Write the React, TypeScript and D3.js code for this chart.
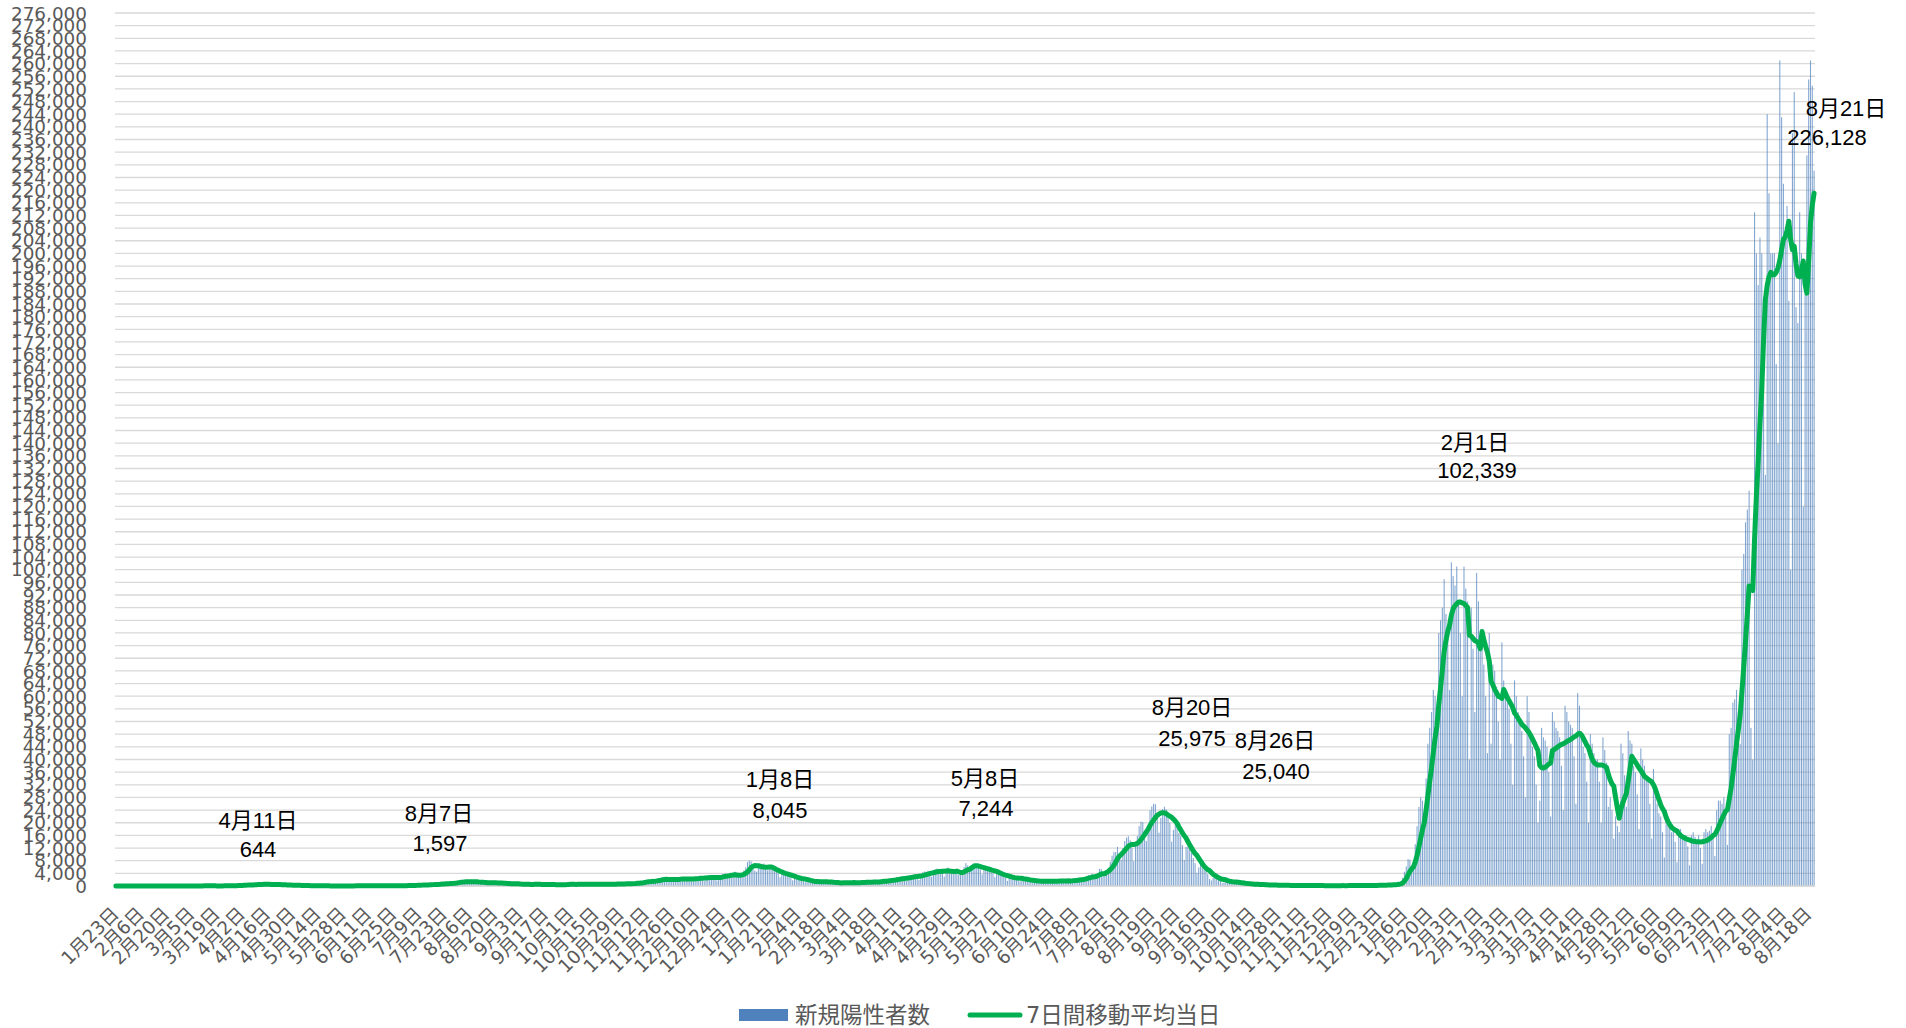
import React from 'react';
import * as d3 from 'd3';

// ---------------- data ----------------
const startDate = new Date(2020, 0, 23);

// daily new positive cases, 2020-01-23 .. 2020-12-31 (one line per month)
const cases2020 = [
  0, 1, 0, 1, 0, 2, 1, 3, 2,
  1, 0, 0, 0, 0, 0, 1, 0, 0, 1, 0, 0, 3, 8, 5, 7, 8, 6, 3, 12, 8, 9, 7, 3, 7, 10, 14, 22, 10,
  13, 15, 12, 18, 35, 41, 32, 26, 33, 51, 55, 62, 50, 41, 15, 39, 44, 36, 39, 52, 23, 39, 52, 45, 93, 95, 120, 200, 127, 87, 249,
  266, 235, 353, 368, 384, 254, 351, 504, 579, 579, 644, 507, 390, 457, 482, 585, 576, 568, 368, 373, 388, 437, 440, 430, 350, 201, 174, 277, 220, 187,
  165, 290, 200, 174, 123, 95, 97, 83, 111, 59, 58, 81, 55, 99, 54, 26, 41, 26, 22, 40, 41, 30, 14, 21, 20, 21, 38, 27, 41, 36, 46,
  36, 40, 49, 50, 40, 44, 46, 32, 40, 33, 51, 43, 38, 50, 72, 43, 41, 74, 51, 53, 58, 38, 37, 96, 78, 103, 102, 106, 107, 123,
  137, 127, 250, 274, 209, 170, 207, 222, 355, 430, 385, 408, 259, 325, 456, 622, 587, 664, 509, 420, 631, 793, 980, 770, 838, 840, 598, 982, 1264, 1301, 1580,
  1536, 1331, 958, 1245, 1356, 1485, 1597, 1566, 1441, 828, 698, 969, 1175, 1364, 1231, 1014, 636, 869, 1075, 1196, 1026, 1011, 738, 489, 685, 849, 905, 843, 708, 590, 452,
  638, 598, 591, 568, 595, 470, 280, 508, 506, 651, 653, 636, 438, 269, 427, 500, 585, 557, 598, 436, 321, 298, 196, 472, 545, 642, 486, 290, 517, 629,
  603, 540, 580, 399, 388, 496, 661, 638, 732, 570, 453, 328, 578, 593, 714, 726, 638, 413, 304, 459, 623, 611, 707, 784, 514, 431, 519, 707, 751, 849, 866,
  613, 484, 923, 616, 907, 1042, 1255, 911, 905, 1220, 1547, 1660, 1706, 1738, 1439, 949, 1699, 2201, 2386, 2427, 2596, 2176, 1526, 1227, 1934, 2504, 2508, 2684, 2068, 1438,
  2037, 2430, 2518, 2437, 2508, 2027, 1516, 2072, 2789, 2810, 2787, 3041, 2380, 1683, 2388, 3212, 3047, 2839, 2994, 2488, 1725, 2636, 3268, 3740, 3827, 3877, 2946, 2395, 3601, 3852, 4520,
];

// 2021-01-01 .. 2021-12-31
const cases2021 = [
  3159, 3059, 3139, 3325, 4887, 5943, 7570, 8045, 7790, 6094, 4876, 4537, 5867, 6605, 6714, 7133, 5759, 4925, 5320, 5654, 5454, 4740, 4709, 3990, 2764, 3853, 3961, 4131, 3534, 3343, 2673,
  1792, 2324, 2631, 2576, 2283, 2369, 1892, 1223, 1569, 1564, 1463, 1354, 1357, 1354, 1093, 1302, 1527, 1389, 1311, 1241, 1224, 857, 1057, 1076, 1033, 1101, 962, 679,
  1112, 978, 1233, 1174, 1145, 1095, 1067, 601, 1046, 1325, 1284, 1354, 1305, 1144, 718, 1116, 1513, 1547, 1565, 1462, 1119, 1175, 1507, 1911, 1931, 2078, 2060, 1785, 1245, 2081, 2843,
  2610, 2764, 2773, 2471, 1572, 2659, 3451, 3446, 3450, 3695, 2791, 1936, 3451, 4302, 4573, 4532, 4802, 3955, 2906, 4340, 5297, 5523, 5122, 5037, 4620, 2959, 4846, 5790, 4703, 4694,
  4678, 4179, 4026, 3467, 4209, 4459, 6054, 7244, 6481, 4886, 6248, 7050, 6861, 6267, 6420, 5221, 3671, 5231, 5758, 5695, 5304, 4904, 4007, 2766, 3768, 4262, 3834, 3527, 3309, 2598, 1622,
  2709, 3009, 2719, 2618, 2608, 2245, 1479, 2268, 2169, 2138, 1939, 1877, 1541, 936, 1383, 1763, 1745, 1550, 1646, 1310, 1009, 1418, 1698, 1742, 1690, 1732, 1388, 1040, 1516, 1771,
  1781, 1845, 1806, 1599, 1017, 1674, 2190, 2254, 2223, 2460, 2081, 1503, 2390, 3194, 3427, 3432, 3898, 2330, 2312, 3761, 5413, 5397, 4225, 4183, 4697, 4701, 7631, 9576, 10687, 10744, 12341,
  10170, 8364, 12015, 14211, 15263, 15746, 14467, 12072, 7846, 13008, 15812, 18888, 20366, 20137, 17486, 14207, 18923, 23914, 25153, 25975, 25869, 22234, 16879, 21528, 24306, 25040, 24262, 22741, 19995, 14032, 17739,
  20033, 20020, 16752, 15783, 12940, 8230, 12350, 12411, 12385, 10390, 8856, 7226, 4171, 5852, 6790, 5791, 5103, 4704, 3775, 2209, 1767, 2600, 3263, 2567, 2237, 1577, 919, 1128, 1986, 1575,
  1446, 1237, 1073, 610, 1048, 1125, 1003, 859, 776, 517, 372, 611, 616, 611, 509, 508, 429, 233, 372, 395, 323, 338, 283, 262, 155, 301, 291, 279, 278, 239, 163,
  86, 232, 164, 140, 216, 204, 162, 106, 157, 215, 206, 193, 188, 128, 77, 120, 162, 162, 141, 108, 92, 56, 80, 78, 129, 108, 134, 118, 85, 122,
  132, 90, 152, 121, 128, 100, 162, 127, 174, 154, 168, 173, 103, 176, 178, 186, 189, 182, 165, 134, 206, 252, 291, 299, 306, 207, 244, 401, 478, 413, 550,
];

// 2022-01-01 .. 2022-08-21
const cases2022 = [
  500, 550, 780, 1300, 2600, 4500, 6200, 8500, 8300, 6400, 6000, 13200, 18900, 25000, 28000, 27000, 22000, 34000, 45000, 50000, 55000, 62000, 60000, 48000, 80000, 84000, 88000, 97000, 86000, 80000, 62000,
  102339, 98000, 95000, 101000, 90000, 80000, 60000, 101000, 94000, 90000, 40000, 88000, 75000, 55000, 99000, 90000, 78000, 78000, 70000, 60000, 42000, 80000, 45000, 70000, 68000, 63000, 52000, 40000,
  77000, 65000, 62000, 58000, 56000, 45000, 32000, 65000, 60000, 55000, 52000, 49000, 41000, 28000, 60000, 55000, 48000, 44000, 41000, 32000, 20000, 27000, 50000, 47000, 46000, 44000, 36000, 22000, 55000, 52000, 50000,
  49000, 47000, 38000, 24000, 57000, 55000, 52000, 51000, 50000, 41000, 26000, 61000, 57000, 49000, 44000, 42000, 33000, 20000, 48000, 45000, 42000, 40000, 40000, 33000, 20000, 47000, 43000, 39000, 25000, 28000,
  24000, 15000, 22000, 19000, 17000, 45000, 42000, 35000, 25000, 49000, 46000, 45000, 38000, 36000, 29000, 18000, 43500, 40000, 38000, 35000, 33000, 26000, 15000, 37000, 31000, 26000, 23000, 22000, 17000, 9000, 24000,
  22000, 19000, 17000, 18500, 14000, 7500, 18000, 18000, 16000, 15000, 16000, 12500, 6500, 16000, 17000, 15500, 14500, 16000, 12000, 7000, 17000, 18000, 17000, 17500, 19000, 16000, 9500, 24000, 27000, 27000,
  26000, 28000, 24000, 13000, 48000, 50000, 58000, 59000, 62000, 55000, 45000, 100000, 105000, 115000, 119000, 125000, 50000, 40000, 213000, 200000, 190000, 205000, 200000, 160000, 130000, 244000, 219000, 200000, 200000, 200000, 165000,
  140000, 261000, 243000, 222000, 205000, 215000, 185000, 100000, 238000, 251000, 183000, 178000, 213000, 200000, 120000, 187000, 231000, 255000, 261000, 253000, 226128,
];

const yMax = 276000;
const yStep = 4000;
const labelEvery = 14;
const seriesNames = ['新規陽性者数', '7日間移動平均当日'];
const annotatedDates = ['2020-04-11', '2020-08-07', '2021-01-08', '2021-05-08', '2021-08-20', '2021-08-26', '2022-02-01', '2022-08-21'];

// ---------------- layout ----------------
const W = 1906;
const H = 1028;
const PLOT = { left: 115, right: 1815, top: 13, bottom: 886 };
// [date x, date baseline, value x, value baseline]
const annotationLayout = [
  [258, 828, 258, 857],
  [439, 821, 440, 851],
  [780, 787, 780, 818],
  [985, 786, 986, 816],
  [1192, 715, 1192, 746],
  [1275, 748, 1276, 779],
  [1475, 450, 1477, 478],
  [1846, 116, 1827, 145],
];
const FONT = "'DejaVu Sans', 'Noto Sans CJK JP', sans-serif";
const ANNOT_FONT = "'Liberation Sans', 'Noto Sans CJK JP', sans-serif";
const BAR_COLOR = '#4F81BD';
const LINE_COLOR = '#00B050';
const AXIS_TEXT = '#595959';
const GRID = '#D9D9D9';

export default function App() {
  const daily = [...cases2020, ...cases2021, ...cases2022];
  const dates = daily.map((_, i) => d3.timeDay.offset(startDate, i));
  const avg = daily.map((_, i) => d3.mean(daily.slice(Math.max(0, i - 6), i + 1)) as number);

  const x = d3
    .scaleBand<number>()
    .domain(d3.range(daily.length))
    .range([PLOT.left, PLOT.right])
    .paddingInner(0.4)
    .paddingOuter(0.2);
  const bw = x.bandwidth();
  const cx = (i: number) => (x(i) as number) + bw / 2;
  const y = d3.scaleLinear().domain([0, yMax]).range([PLOT.bottom, PLOT.top]);

  const line = d3
    .line<number>()
    .x((_, i) => cx(i))
    .y((d) => y(d));

  const yTicks = d3.range(0, yMax + 1, yStep);
  const fmt = d3.format(',');
  const iso = d3.timeFormat('%Y-%m-%d');
  const dateLabel = (d: Date) => `${d.getMonth() + 1}月${d.getDate()}日`;
  const xTickIdx = d3.range(0, daily.length, labelEvery);

  const annotations = annotatedDates.map((s, k) => {
    const idx = dates.findIndex((d) => iso(d) === s);
    return { idx, k, date: dateLabel(dates[idx]), value: fmt(daily[idx]) };
  });

  return (
    <svg
      width={W}
      height={H}
      style={{ position: 'absolute', left: 0, top: 0, background: '#fff' }}
      fontFamily={FONT}
    >
      <rect x={0} y={0} width={W} height={H} fill="#fff" />
      {/* grid */}
      <g>
        {yTicks.map((t) => (
          <line key={t} x1={PLOT.left} x2={PLOT.right} y1={y(t)} y2={y(t)} stroke={GRID} strokeWidth={1.3} />
        ))}
      </g>
      {/* y labels */}
      <g fontSize={18.4} fill={AXIS_TEXT} textAnchor="end">
        {yTicks.map((t) => (
          <text key={t} x={87} y={y(t)} dy="0.36em">
            {fmt(t)}
          </text>
        ))}
      </g>
      {/* bars */}
      <g fill={BAR_COLOR} fillOpacity={0.7}>
        {daily.map((v, i) => (
          <rect key={i} x={x(i)} y={y(v)} width={bw} height={Math.max(0, PLOT.bottom - y(v))} />
        ))}
      </g>
      {/* axis line */}
      <line x1={PLOT.left} x2={PLOT.right} y1={PLOT.bottom} y2={PLOT.bottom} stroke={GRID} strokeWidth={1.3} />
      {/* moving average */}
      <path d={line(avg) || ''} fill="none" stroke={LINE_COLOR} strokeWidth={5} strokeLinejoin="round" strokeLinecap="round" />
      {/* x labels */}
      <g fontSize={18.4} fill={AXIS_TEXT} textAnchor="end">
        {xTickIdx.map((i) => (
          <text key={i} transform={`translate(${cx(i) + 4},${915}) rotate(-45)`}>
            {dateLabel(dates[i])}
          </text>
        ))}
      </g>
      {/* annotations */}
      <g fontSize={22} fill="#000" textAnchor="middle" fontFamily={ANNOT_FONT}>
        {annotations.map((a) => {
          const L = annotationLayout[a.k];
          return (
            <g key={a.k}>
              <text x={L[0]} y={L[1]}>{a.date}</text>
              <text x={L[2]} y={L[3]}>{a.value}</text>
            </g>
          );
        })}
      </g>
      {/* legend */}
      <g fontSize={22.5} fill={AXIS_TEXT}>
        <rect x={739} y={1009} width={49} height={12} fill={BAR_COLOR} />
        <text x={795} y={1015} dy="0.35em">{seriesNames[0]}</text>
        <line x1={970} x2={1020} y1={1015} y2={1015} stroke={LINE_COLOR} strokeWidth={5} strokeLinecap="round" />
        <text x={1026} y={1015} dy="0.35em">{seriesNames[1]}</text>
      </g>
    </svg>
  );
}
